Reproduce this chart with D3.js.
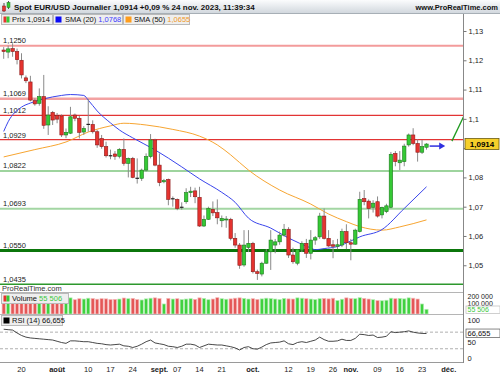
<!DOCTYPE html>
<html>
<head>
<meta charset="utf-8">
<script src="https://cdn.jsdelivr.net/npm/d3@7"></script>
<style>
  body { margin: 0; background: #fff; }
  svg { display: block; }
  text { font-family: "Liberation Sans", Arial, sans-serif; }
</style>
</head>
<body>
<svg id="chart" width="500" height="375"></svg>
<script>
// ---- data (14 Jul -> 24 Nov 2023) ----
const open = [1.1235,1.1228,1.1240,1.1230,1.1200,1.1140,1.1126,1.1062,1.1053,1.1076,
  1.0979,1.1022,1.1011,1.1010,1.0945,1.0951,1.1013,1.1002,1.0955,1.0978,
  1.0981,1.0956,1.0933,1.0905,1.0876,1.0880,1.0872,1.0896,1.0848,1.0865,
  1.0800,1.0797,1.0825,1.0871,1.0928,1.0842,1.0785,1.0793,1.0725,1.0725,
  1.0696,1.0717,1.0748,1.0754,1.0732,1.0634,1.0657,1.0691,1.0680,1.0652,
  1.0655,1.0657,1.0592,1.0569,1.0501,1.0561,1.0575,1.0478,1.0470,1.0507,
  1.0546,1.0569,1.0580,1.0603,1.0623,1.0535,1.0507,1.0552,1.0575,1.0541,
  1.0586,1.0597,1.0668,1.0592,1.0570,1.0565,1.0569,1.0615,1.0577,1.0572,
  1.0615,1.0728,1.0719,1.0698,1.0717,1.0672,1.0683,1.0698,1.0882,1.0850,
  1.0854,1.0911,1.0945,1.0916,1.0886,1.0903];
const high = [1.1245,1.1250,1.1258,1.1240,1.1224,1.1148,1.1147,1.1070,1.1104,1.1150,
  1.1043,1.1027,1.1020,1.1015,1.0967,1.1041,1.1018,1.1010,1.0975,1.1068,
  1.0995,1.0962,1.0945,1.0922,1.0895,1.0890,1.0900,1.0933,1.0868,1.0870,
  1.0865,1.0830,1.0882,1.0948,1.0932,1.0882,1.0795,1.0796,1.0735,1.0728,
  1.0715,1.0763,1.0768,1.0765,1.0768,1.0670,1.0700,1.0718,1.0725,1.0670,
  1.0668,1.0662,1.0610,1.0576,1.0620,1.0620,1.0580,1.0485,1.0512,1.0555,
  1.0620,1.0590,1.0615,1.0641,1.0630,1.0560,1.0555,1.0582,1.0590,1.0620,
  1.0600,1.0679,1.0694,1.0620,1.0586,1.0590,1.0625,1.0640,1.0590,1.0625,
  1.0751,1.0757,1.0725,1.0722,1.0735,1.0700,1.0710,1.0887,1.0890,1.0890,
  1.0915,1.0950,1.0968,1.0930,1.0928,1.0917];
const low = [1.1205,1.1207,1.1212,1.1186,1.1138,1.1122,1.1060,1.1045,1.1045,1.0966,
  1.0945,1.0979,1.0985,1.0938,1.0934,1.0948,1.0992,1.0933,1.0945,1.0956,
  1.0950,1.0901,1.0898,1.0868,1.0862,1.0860,1.0865,1.0840,1.0800,1.0797,
  1.0779,1.0788,1.0820,1.0865,1.0838,1.0770,1.0780,1.0705,1.0700,1.0688,
  1.0690,1.0710,1.0733,1.0712,1.0631,1.0631,1.0655,1.0668,1.0640,1.0630,
  1.0628,1.0585,1.0560,1.0488,1.0495,1.0545,1.0472,1.0450,1.0462,1.0505,
  1.0484,1.0541,1.0570,1.0598,1.0525,1.0505,1.0500,1.0545,1.0525,1.0520,
  1.0570,1.0590,1.0588,1.0563,1.0524,1.0555,1.0562,1.0555,1.0517,1.0570,
  1.0612,1.0705,1.0660,1.0680,1.0663,1.0660,1.0678,1.0695,1.0838,1.0825,
  1.0838,1.0905,1.0910,1.0854,1.0880,1.0895];
const close = [1.1230,1.1239,1.1230,1.1202,1.1150,1.1130,1.1064,1.1051,1.1076,1.0978,
  1.1013,1.0996,1.0999,1.0945,1.0954,1.1007,1.1002,1.0954,1.0967,1.0981,
  1.0956,1.0911,1.0905,1.0874,1.0874,1.0872,1.0896,1.0848,1.0865,1.0800,
  1.0797,1.0825,1.0871,1.0928,1.0842,1.0782,1.0789,1.0725,1.0727,1.0694,
  1.0698,1.0748,1.0753,1.0734,1.0634,1.0657,1.0694,1.0679,1.0662,1.0660,
  1.0658,1.0592,1.0569,1.0500,1.0569,1.0575,1.0478,1.0472,1.0507,1.0546,
  1.0586,1.0580,1.0603,1.0623,1.0535,1.0512,1.0554,1.0575,1.0541,1.0586,
  1.0594,1.0668,1.0592,1.0566,1.0565,1.0570,1.0615,1.0577,1.0572,1.0620,
  1.0725,1.0717,1.0694,1.0712,1.0668,1.0698,1.0703,1.0879,1.0854,1.0859,
  1.0907,1.0945,1.0916,1.0886,1.0905,1.0914];
const volume = [178000,182000,176000,185000,190000,172000,180000,176000,186000,195000,
  184000,170000,178000,188000,172000,190000,168000,180000,176000,186000,
  182000,174000,180000,178000,170000,172000,176000,188000,180000,184000,
  170000,165000,178000,186000,190000,182000,118000,184000,176000,180000,
  170000,176000,180000,172000,190000,184000,168000,176000,192000,180000,
  174000,178000,186000,190000,184000,176000,180000,172000,178000,186000,
  182000,176000,170000,184000,178000,176000,190000,186000,180000,176000,
  170000,180000,184000,178000,186000,160000,174000,190000,182000,180000,
  192000,184000,176000,168000,158000,156000,162000,186000,180000,184000,
  178000,190000,186000,176000,118000,55506];
const rsi = [77,76,75,68,62,58,56,55,54,53,52,51,48,45,43,49,49,48,47,47,
  45,43,42,40,39,40,41,37,36,33,36,41,47,51,44,42,40,36,35,33,
  36,41,41,39,33,37,41,40,39,39,37,35,32,27,33,35,30,29,34,40,
  44,45,46,49,42,40,45,47,45,48,51,58,52,48,48,49,53,50,50,55,
  65,64,62,63,57,58,60,71,69,70,71,73,70,68,67,66.655];

// moving averages, read at these candle indexes
const sma20At = [0,1,4,6,9,13,15,18,19,21,24,26,29,34,40,44,49,52,55,60,64,69,70,72,75,78,80,85,90,95];
const sma20 = [1.0957,1.0990,1.1040,1.1054,1.1068,1.1080,1.1083,1.1080,1.1064,1.1027,1.0986,1.0962,1.0935,1.0894,1.0836,
  1.0795,1.0749,1.0715,1.0661,1.0627,1.0593,1.0559,1.0553,1.0557,1.0564,1.0583,1.0597,1.0622,1.0694,1.0768];
const sma50At = [0,7,14,19,24,27,32,38,44,48,51,55,62,69,73,77,80,85,89,95];
const sma50 = [1.0870,1.0895,1.0921,1.0955,1.0976,1.0985,1.0979,1.0964,1.0941,1.0911,1.0877,1.0825,1.0757,1.0709,1.0675,
  1.0649,1.0632,1.0620,1.0631,1.0655];

// horizontal levels
const levels = [1.1250, 1.1069, 1.1012, 1.0929, 1.0822, 1.0693, 1.0550, 1.0435];
const levelColors = ["#f39b9b", "#f3a2a2", "#e23434", "#e23434", "#9ed49e", "#a3d6a3", "#0b760b", "#2d982d"];
const levelWidths = [2, 2.5, 1.2, 1.2, 2, 2, 3, 1.5];

// price axis (1,09 sits under the last-price tag)
const priceTicks = [1.13, 1.12, 1.11, 1.10, 1.09, 1.08, 1.07, 1.06, 1.05];

// x axis: candle index of each label (0 = 14 Jul), month names in bold
const tickIndex = [4, 12, 19, 24, 29, 35, 39, 44, 49, 56, 64, 69, 74, 78, 84, 89, 94, 100];
const tickLabels = ["20", "août", "10", "17", "24", "sept.", "07", "14", "21", "oct.", "12", "19", "26", "nov.", "09", "16", "23", "déc."];
const monthLabels = ["août", "sept.", "oct.", "nov.", "déc."];

// drawn annotations: arrow after last candle, rising trend stub near the axis
const arrowIdx = [95.7, 99.2];
const arrowPrice = 1.0907;
const trendIdx = [100.7, 103.4];
const trendPrice = [1.0924, 1.1010];

const lastPrice = 1.0914, lastSma20 = 1.0768, lastSma50 = 1.0655, lastVolume = 55506, lastRsi = 66.655;

// ---- layout ----
const W = 500, H = 375;
const AX = 463.5;
const GREEN = "#35c935", GREEN_D = "#1d7a1d", RED = "#e5332f", RED_D = "#8c1b1b";
const fmtComma = (v, d) => v.toFixed(d).replace(".", ",");
const fmtSpace = v => d3.format(",")(v).replace(/,/g, " ");

const svg = d3.select("#chart");
const defs = svg.append("defs");

const x = d3.scaleLinear().domain([0, 95]).range([3.7, 426.5]);
const y = d3.scaleLinear().domain([1.0435, 1.13]).range([284.3, 31]);
const vy = d3.scaleLinear().domain([0, 200000]).range([314, 297]);
const ry = d3.scaleLinear().domain([0, 100]).range([361.2, 319.7]);

defs.append("clipPath").attr("id", "pclip")
  .append("rect").attr("x", 0).attr("y", 25).attr("width", AX).attr("height", 267);

// ---- header ----
const grad = defs.append("linearGradient").attr("id", "hdr")
  .attr("x1", 0).attr("y1", 0).attr("x2", 0).attr("y2", 1);
grad.append("stop").attr("offset", "0%").attr("stop-color", "#fbfcfd");
grad.append("stop").attr("offset", "100%").attr("stop-color", "#d2d8de");
svg.append("rect").attr("x", 0).attr("y", 0).attr("width", W).attr("height", 13).attr("fill", "url(#hdr)");
svg.append("line").attr("x1", 0).attr("x2", W).attr("y1", 13.5).attr("y2", 13.5).attr("stroke", "#a7afb6");

// small candle icon
const icon = svg.append("g");
icon.append("line").attr("x1", 4).attr("x2", 4).attr("y1", 3).attr("y2", 12).attr("stroke", "#555");
icon.append("rect").attr("x", 2.5).attr("y", 6).attr("width", 3).attr("height", 5).attr("fill", RED).attr("stroke", RED_D).attr("stroke-width", 0.5);
icon.append("line").attr("x1", 8.5).attr("x2", 8.5).attr("y1", 1).attr("y2", 9).attr("stroke", "#555");
icon.append("rect").attr("x", 7).attr("y", 2.5).attr("width", 3).attr("height", 5).attr("fill", GREEN).attr("stroke", GREEN_D).attr("stroke-width", 0.5);

svg.append("text").attr("x", 14).attr("y", 10).attr("font-size", 8).attr("font-weight", "bold").attr("fill", "#111")
  .text("Spot EUR/USD Journalier 1,0914 +0,09 % 24 nov. 2023, 11:39:34");
svg.append("text").attr("x", 498).attr("y", 10).attr("font-size", 7.5).attr("font-weight", "bold").attr("fill", "#111")
  .attr("text-anchor", "end").text("www.ProRealTime.com");

// ---- price panel ----
const price = svg.append("g");

price.selectAll("line.level").data(levels).join("line")
  .attr("class", "level")
  .attr("x1", 0).attr("x2", AX)
  .attr("y1", d => y(d)).attr("y2", d => y(d))
  .attr("stroke", (d, i) => levelColors[i])
  .attr("stroke-width", (d, i) => levelWidths[i]);

price.selectAll("text.level").data(levels).join("text")
  .attr("class", "level")
  .attr("x", 3).attr("y", (d, i) => y(d) - levelWidths[i] / 2 - 1.5)
  .attr("font-size", 7.5).attr("fill", "#1a1a1a")
  .text(d => fmtComma(d, 4));

// moving averages
const maLine = d3.line().x(d => x(d[0])).y(d => y(d[1])).curve(d3.curveMonotoneX);
price.append("path").datum(sma50At.map((k, i) => [k, sma50[i]]))
  .attr("d", maLine).attr("fill", "none").attr("stroke", "#f7a531").attr("stroke-width", 1);
price.append("path").datum(sma20At.map((k, i) => [k, sma20[i]]))
  .attr("d", maLine).attr("fill", "none").attr("stroke", "#3a45ec").attr("stroke-width", 1);

// candles
const candles = d3.range(close.length).map(i => ({ i, o: open[i], h: high[i], l: low[i], c: close[i] }));
const cg = price.selectAll("g.candle").data(candles).join("g").attr("class", "candle");
cg.append("line")
  .attr("x1", d => x(d.i)).attr("x2", d => x(d.i))
  .attr("y1", d => y(d.h)).attr("y2", d => y(d.l))
  .attr("stroke", "#8a8a8a").attr("stroke-width", 1);
cg.filter(d => Math.abs(d.c - d.o) >= 0.0003).append("rect")
  .attr("x", d => x(d.i) - 1.7).attr("width", 3.4)
  .attr("y", d => y(Math.max(d.o, d.c)))
  .attr("height", d => Math.max(1, y(Math.min(d.o, d.c)) - y(Math.max(d.o, d.c))))
  .attr("fill", d => d.c >= d.o ? GREEN : RED)
  .attr("stroke", d => d.c >= d.o ? GREEN_D : RED_D).attr("stroke-width", 0.6);
cg.filter(d => Math.abs(d.c - d.o) < 0.0003).append("line")
  .attr("x1", d => x(d.i) - 1.8).attr("x2", d => x(d.i) + 1.8)
  .attr("y1", d => y(d.c)).attr("y2", d => y(d.c))
  .attr("stroke", "#222").attr("stroke-width", 1.2);

// arrow and trend stub
const arrowY = y(arrowPrice);
price.append("line")
  .attr("x1", x(arrowIdx[0])).attr("x2", x(arrowIdx[1]) - 5)
  .attr("y1", arrowY).attr("y2", arrowY)
  .attr("stroke", "#2f2fe0").attr("stroke-width", 1.5);
price.append("path")
  .attr("d", `M${x(arrowIdx[1]) - 6},${arrowY - 3.5} L${x(arrowIdx[1])},${arrowY} L${x(arrowIdx[1]) - 6},${arrowY + 3.5} Z`)
  .attr("fill", "#2f2fe0");
price.append("line").attr("clip-path", "url(#pclip)")
  .attr("x1", x(trendIdx[0])).attr("y1", y(trendPrice[0]))
  .attr("x2", x(trendIdx[1])).attr("y2", y(trendPrice[1]))
  .attr("stroke", "#1f9a1f").attr("stroke-width", 1.3);

// watermark
svg.append("text").attr("x", 2).attr("y", 291).attr("font-size", 7.5).attr("fill", "#333").text("ProRealTime.com");

// ---- legend row ----
function legendBox(x0, w, yTop) {
  svg.append("rect").attr("x", x0 + 0.5).attr("y", yTop + 0.5).attr("width", w).attr("height", 10)
    .attr("fill", "#eeeeee").attr("stroke", "#b9b9b9").attr("stroke-width", 1);
}
legendBox(1, 51, 14);
svg.append("rect").attr("x", 3.5).attr("y", 16.5).attr("width", 3).attr("height", 6).attr("fill", RED);
svg.append("rect").attr("x", 6.5).attr("y", 16.5).attr("width", 3).attr("height", 6).attr("fill", GREEN);
svg.append("text").attr("x", 12).attr("y", 22.3).attr("font-size", 7.5).attr("fill", "#111").text("Prix " + fmtComma(lastPrice, 4));

legendBox(53, 69, 14);
svg.append("rect").attr("x", 55.5).attr("y", 16.5).attr("width", 6).attr("height", 6).attr("fill", "#0a0af5");
const t20 = svg.append("text").attr("x", 65).attr("y", 22.3).attr("font-size", 7.5).attr("fill", "#111");
t20.append("tspan").text("SMA (20) ");
t20.append("tspan").attr("fill", "#3d3dff").text(fmtComma(lastSma20, 4));

legendBox(123, 66, 14);
svg.append("rect").attr("x", 125.5).attr("y", 16.5).attr("width", 6).attr("height", 6).attr("fill", "#ff9d1c");
const t50 = svg.append("text").attr("x", 134).attr("y", 22.3).attr("font-size", 7.5).attr("fill", "#111");
t50.append("tspan").text("SMA (50) ");
t50.append("tspan").attr("fill", "#f09a2a").text(fmtComma(lastSma50, 4));

// ---- volume panel ----
svg.append("line").attr("x1", 0).attr("x2", AX).attr("y1", 292.5).attr("y2", 292.5).attr("stroke", "#b5b5b5");
svg.selectAll("rect.vol").data(candles).join("rect")
  .attr("class", "vol")
  .attr("x", d => x(d.i) - 1.6).attr("width", 3.2)
  .attr("y", d => vy(volume[d.i]))
  .attr("height", d => vy(0) - vy(volume[d.i]))
  .attr("fill", d => d.c >= d.o ? "#3fd13f" : "#e45757")
  .attr("stroke", d => d.c >= d.o ? "#b6edb6" : "#f5b9b9").attr("stroke-width", 0.7);

legendBox(1, 67, 293);
svg.append("rect").attr("x", 3.5).attr("y", 295.5).attr("width", 3).attr("height", 6).attr("fill", RED);
svg.append("rect").attr("x", 6.5).attr("y", 295.5).attr("width", 3).attr("height", 6).attr("fill", GREEN);
const tv = svg.append("text").attr("x", 12).attr("y", 301.3).attr("font-size", 7.5).attr("fill", "#111");
tv.append("tspan").text("Volume ");
tv.append("tspan").attr("fill", "#3cc83c").text(fmtSpace(lastVolume));

svg.append("line").attr("x1", 0).attr("x2", AX).attr("y1", 314.5).attr("y2", 314.5).attr("stroke", "#b5b5b5");

// ---- RSI panel ----
[70, 30].forEach(v => {
  svg.append("line").attr("x1", 0).attr("x2", AX).attr("y1", ry(v)).attr("y2", ry(v))
    .attr("stroke", "#9a9a9a").attr("stroke-dasharray", "3,2").attr("stroke-width", 0.8);
});
svg.append("path").datum(rsi)
  .attr("d", d3.line().x((d, i) => x(i)).y(d => ry(d)))
  .attr("fill", "none").attr("stroke", "#333").attr("stroke-width", 0.9);

legendBox(1, 61, 315);
svg.append("rect").attr("x", 3.5).attr("y", 317.5).attr("width", 6).attr("height", 6).attr("fill", "#000");
svg.append("text").attr("x", 12).attr("y", 323.3).attr("font-size", 7.5).attr("fill", "#111")
  .text("RSI (14) " + fmtComma(lastRsi, 3));

svg.append("line").attr("x1", 0).attr("x2", AX).attr("y1", 362.5).attr("y2", 362.5).attr("stroke", "#9a9a9a");

// ---- right axis ----
svg.append("rect").attr("x", AX).attr("y", 14).attr("width", W - AX).attr("height", 349).attr("fill", "#fff");
svg.append("line").attr("x1", AX).attr("x2", AX).attr("y1", 14).attr("y2", 363).attr("stroke", "#888");

const pAxis = svg.append("g").attr("transform", `translate(${AX},0)`)
  .call(d3.axisRight(y).tickValues(priceTicks).tickSize(3).tickPadding(2)
    .tickFormat(v => String(+v.toFixed(2)).replace(".", ",")));
pAxis.select(".domain").remove();
pAxis.selectAll("text").attr("font-size", 7.5).attr("fill", "#222").attr("font-family", "Liberation Sans, Arial, sans-serif");
pAxis.selectAll("line").attr("stroke", "#777");
// the tick label hidden by the last-price tag
pAxis.selectAll(".tick").filter(d => Math.abs(d - lastPrice) < 0.004).select("text").remove();

// last price tag
svg.append("rect").attr("x", AX + 1.5).attr("y", y(lastPrice) - 5.5).attr("width", 34).attr("height", 11)
  .attr("fill", "#f6cf2a").attr("stroke", "#6b5a10").attr("stroke-width", 0.8);
svg.append("text").attr("x", AX + 18.5).attr("y", y(lastPrice) + 3).attr("text-anchor", "middle")
  .attr("font-size", 8).attr("font-weight", "bold").attr("fill", "#000").text(fmtComma(lastPrice, 4));

// volume axis
const vAxis = svg.append("g").attr("transform", `translate(${AX},0)`)
  .call(d3.axisRight(vy).tickValues([200000, 100000]).tickSize(0).tickPadding(4).tickFormat(fmtSpace));
vAxis.select(".domain").remove();
vAxis.selectAll("text").attr("font-size", 7).attr("fill", "#222").attr("font-family", "Liberation Sans, Arial, sans-serif");
vAxis.selectAll(".tick").filter(d => d === 200000).select("text").attr("dy", "0.15em");
vAxis.selectAll(".tick").filter(d => d === 100000).select("text").attr("dy", "-0.05em");
svg.append("rect").attr("x", AX + 2.5).attr("y", 306).attr("width", 34).attr("height", 7.5)
  .attr("fill", "#fff").attr("stroke", "#bbb").attr("stroke-width", 0.7);
svg.append("text").attr("x", AX + 4).attr("y", 312.2).attr("font-size", 7).attr("fill", "#3cc83c")
  .text(fmtSpace(lastVolume));

// RSI axis
const rAxis = svg.append("g").attr("transform", `translate(${AX},0)`)
  .call(d3.axisRight(ry).tickValues([100, 50, 0]).tickSize(0).tickPadding(4));
rAxis.select(".domain").remove();
rAxis.selectAll("text").attr("font-size", 7.5).attr("fill", "#222").attr("font-family", "Liberation Sans, Arial, sans-serif");
rAxis.selectAll(".tick").filter(d => d === 0).select("text").attr("dy", "-0.05em");
rAxis.selectAll(".tick").filter(d => d === 50).select("text").attr("dy", "0.55em");
svg.append("rect").attr("x", AX + 2.5).attr("y", ry(lastRsi) - 4.5).attr("width", 34).attr("height", 8.5)
  .attr("fill", "#fff").attr("stroke", "#555").attr("stroke-width", 0.7);
svg.append("text").attr("x", AX + 4).attr("y", ry(lastRsi) + 2.6).attr("font-size", 7.5).attr("fill", "#111")
  .text(fmtComma(lastRsi, 3));

// ---- x axis labels ----
svg.selectAll("text.xl").data(tickIndex).join("text")
  .attr("class", "xl")
  .attr("x", d => x(d)).attr("y", 372)
  .attr("text-anchor", "middle").attr("font-size", 7.5)
  .attr("font-weight", (d, i) => monthLabels.includes(tickLabels[i]) ? "bold" : "normal")
  .attr("fill", "#222")
  .text((d, i) => tickLabels[i]);
</script>
</body>
</html>
